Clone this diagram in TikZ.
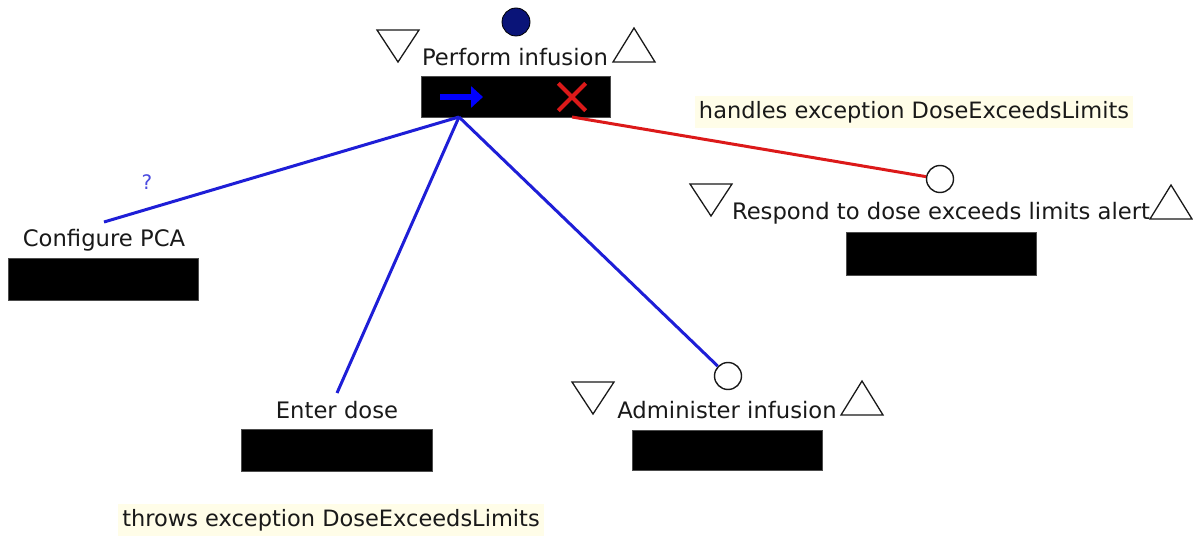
\documentclass[tikz,border=0pt]{standalone}
\usepackage{fontspec}
\setmainfont{DejaVu Sans}
\usetikzlibrary{arrows.meta}
\definecolor{linkblue}{RGB}{30,30,215}
\definecolor{linkred}{RGB}{220,25,25}
\definecolor{navydot}{RGB}{10,20,120}
\definecolor{notebg}{RGB}{255,253,232}
\definecolor{ink}{RGB}{25,25,25}
\tikzset{
  label/.style={font=\fontsize{22.7}{25}\selectfont, text=ink, inner sep=0pt, anchor=center},
  block/.style={fill=black, draw=black!70, line width=0.5pt, inner sep=0pt},
  port/.style={circle, draw=ink, line width=1.4pt, fill=white, minimum size=27pt, inner sep=0pt},
  note/.style={font=\fontsize{22.5}{25}\selectfont, text=ink, fill=notebg, inner xsep=4pt, inner ysep=5pt},
  tri/.style={draw=ink, line width=1.3pt, line join=miter},
  link/.style={draw=linkblue, line width=3pt},
  xlink/.style={draw=linkred, line width=3pt},
  dtri/.pic={\draw[tri] (-21,-16) -- (21,-16) -- (0,16) -- cycle;},
  utri/.pic={\draw[tri] (-21,17) -- (21,17) -- (0,-17) -- cycle;}
}
\begin{document}
\begin{tikzpicture}[x=1pt, y=-1pt]
\useasboundingbox (0,0) rectangle (1193,537);

% parent task
\node[circle, fill=navydot, draw=black, line width=0.8pt, minimum size=28pt, inner sep=0pt] (pfdot) at (516,22) {};
\node[label] (pftext) at (515,57) {Perform infusion};
\node[block, minimum width=189pt, minimum height=41pt] (pfbox) at (515.5,96.5) {};
\pic at (398,46) {dtri};
\pic at (634,45) {utri};
% sequence marker and exception marker inside the box
\coordinate (seqA) at (440,97);
\coordinate (seqB) at (483,97);
\draw[draw=blue, line width=6pt, -{Triangle[length=12pt, width=21pt]}] (seqA) -- (seqB);
\node[inner sep=0pt, minimum size=27pt] (xmark) at (572,97) {};
\draw[draw=linkred, line width=4pt] (xmark.north west) -- (xmark.south east)
      (xmark.north east) -- (xmark.south west);
\coordinate (pfout) at (459,117);
\coordinate (pfexc) at (572,117);

% Configure PCA
\node[label] (cfgtext) at (104,240) {Configure PCA};
\node[block, minimum width=190pt, minimum height=42pt] (cfgbox) at (103,279) {};
\coordinate (cfgin) at (104,222);
\node[font=\fontsize{20}{22}\selectfont, text=linkblue!80!white, inner sep=0pt] (opt) at (147,182) {?};

% Enter dose
\node[label] (entext) at (337,410) {Enter dose};
\node[block, minimum width=191pt, minimum height=42pt] (enbox) at (336.5,450) {};
\coordinate (enin) at (337,393);

% Administer infusion
\node[port] (adport) at (728,376) {};
\node[label] (adtext) at (727,410) {Administer infusion};
\node[block, minimum width=190pt, minimum height=40pt] (adbox) at (727,450) {};
\pic at (593,398) {dtri};
\pic at (862,398) {utri};

% Respond to dose exceeds limits alert
\node[port] (rsport) at (940,179) {};
\node[label] (rstext) at (941,213) {Respond to dose exceeds limits alert};
\node[block, minimum width=190pt, minimum height=43pt] (rsbox) at (941,253.5) {};
\pic at (711,200) {dtri};
\pic at (1171,202) {utri};

% connectors
\draw[link] (pfout) -- (cfgin);
\draw[link] (pfout) -- (enin);
\draw[link] (pfout) -- (adport);
\draw[xlink] (pfexc) -- (rsport);

% exception notes
\node[note] (handles) at (914,112) {handles exception DoseExceedsLimits};
\node[note] (throws) at (331,520) {throws exception DoseExceedsLimits};
\end{tikzpicture}
\end{document}
